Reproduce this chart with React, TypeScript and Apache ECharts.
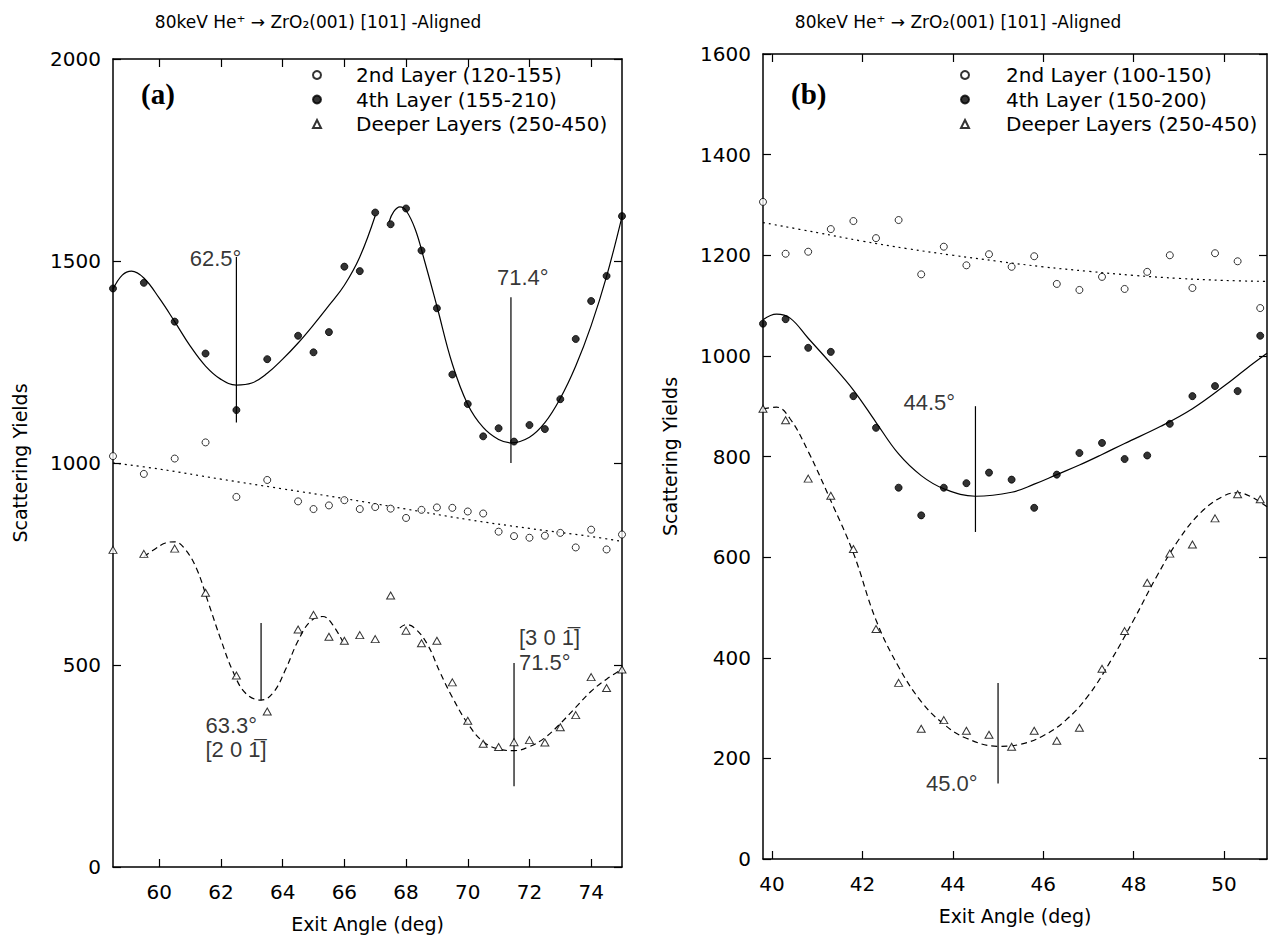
import React, { useEffect, useRef } from 'react';
import * as echarts from 'echarts';

const W = 1279;
const H = 939;
const FONT = '"DejaVu Sans", "Liberation Sans", sans-serif';
const ANNOT_FONT = '"Liberation Sans", Arial, sans-serif';
const TITLE_FONT = '"DejaVu Sans", "Liberation Sans", sans-serif';
const SERIF = '"Liberation Serif", "Times New Roman", serif';

// ---------- Panel (a) data ----------
const ticksA = [60, 62, 64, 66, 68, 70, 72, 74];
const anglesA = [58.5, 59.5, 60.5, 61.5, 62.5, 63.5, 64.5, 65, 65.5, 66, 66.5, 67, 67.5, 68, 68.5, 69, 69.5, 70, 70.5, 71, 71.5, 72, 72.5, 73, 73.5, 74, 74.5, 75];
const secondA = [1017, 973, 1011, 1051, 916, 958, 905, 886, 895, 908, 886, 891, 887, 864, 884, 890, 889, 880, 875, 830, 819, 815, 820, 827, 791, 835, 786, 823];
const fourthA = [1432, 1446, 1350, 1271, 1131, 1257, 1315, 1274, 1324, 1486, 1475, 1620, 1591, 1630, 1526, 1383, 1219, 1146, 1066, 1086, 1053, 1094, 1084, 1158, 1307, 1401, 1463, 1611];
const deeperA = [785, 775, 788, 679, 474, 385, 588, 624, 570, 560, 574, 564, 672, 585, 554, 560, 457, 362, 305, 297, 309, 314, 308, 346, 376, 470, 443, 489];

const fitSecondA = [[58.5, 1000], [60, 985], [62, 960], [64, 936], [66, 912], [68, 886], [70, 860], [72, 838], [74, 818], [75, 806]];
const fitFourthA1 = [[58.5, 1430], [58.8, 1465], [59.1, 1475], [59.5, 1458], [60.0, 1408], [60.5, 1350], [61.0, 1290], [61.5, 1240], [62.0, 1207], [62.5, 1193], [63.0, 1198], [63.5, 1222], [64.0, 1257], [64.5, 1297], [65.0, 1342], [65.5, 1390], [66.0, 1440], [66.5, 1510], [67.0, 1612]];
const fitFourthA2 = [[67.45, 1597], [67.6, 1622], [67.8, 1634], [68.0, 1625], [68.3, 1578], [68.6, 1500], [69.0, 1388], [69.5, 1245], [70.0, 1145], [70.5, 1088], [71.0, 1058], [71.4, 1050], [72.0, 1064], [72.5, 1100], [73.0, 1160], [73.5, 1240], [74.0, 1340], [74.5, 1462], [75.0, 1610]];
const fitDeeperA1 = [[59.5, 768], [59.8, 784], [60.2, 802], [60.5, 805], [60.8, 790], [61.2, 740], [61.6, 652], [62.0, 562], [62.4, 482], [62.8, 430], [63.3, 413], [63.7, 432], [64.1, 490], [64.5, 560], [64.9, 608], [65.3, 620], [65.6, 602], [66.0, 550]];
const fitDeeperA2 = [[67.8, 592], [68.0, 600], [68.3, 590], [68.7, 550], [69.1, 482], [69.5, 420], [70.0, 355], [70.5, 310], [71.0, 292], [71.5, 288], [72.0, 298], [72.5, 320], [73.0, 355], [73.5, 395], [74.0, 435], [74.5, 465], [75.0, 490]];

const markA = [[[62.5, 1100], [62.5, 1510]], [[71.4, 1000], [71.4, 1410]], [[63.3, 413], [63.3, 604]], [[71.5, 200], [71.5, 505]]];

// ---------- Panel (b) data ----------
const ticksB = [40, 42, 44, 46, 48, 50];
const anglesB = [39.8, 40.3, 40.8, 41.3, 41.8, 42.3, 42.8, 43.3, 43.8, 44.3, 44.8, 45.3, 45.8, 46.3, 46.8, 47.3, 47.8, 48.3, 48.8, 49.3, 49.8, 50.3, 50.8];
const secondB = [1306, 1203, 1207, 1252, 1268, 1234, 1270, 1162, 1217, 1180, 1202, 1177, 1198, 1143, 1131, 1157, 1133, 1167, 1200, 1135, 1204, 1188, 1095];
const fourthB = [1064, 1073, 1016, 1008, 920, 857, 738, 683, 738, 747, 768, 754, 698, 764, 807, 827, 795, 802, 865, 920, 940, 930, 1040];
const deeperB = [895, 872, 756, 722, 616, 457, 350, 259, 276, 255, 247, 223, 255, 235, 261, 378, 453, 549, 607, 625, 677, 725, 715];

const fitSecondB = [[39.8, 1265], [41, 1245], [42, 1228], [43, 1213], [44, 1200], [45, 1188], [46, 1177], [47, 1168], [48, 1160], [49, 1154], [50, 1150], [50.95, 1148]];
const fitFourthB = [[39.8, 1072], [40.1, 1083], [40.4, 1075], [40.8, 1035], [41.3, 985], [41.8, 932], [42.3, 868], [42.8, 805], [43.3, 762], [43.8, 736], [44.5, 721], [45.3, 729], [45.8, 745], [46.3, 764], [46.8, 783], [47.3, 804], [47.8, 826], [48.6, 860], [49.3, 895], [50.0, 940], [50.5, 975], [50.95, 1005]];
const fitDeeperB = [[39.8, 895], [40.1, 898], [40.4, 875], [40.8, 810], [41.3, 712], [41.8, 608], [42.3, 475], [42.8, 382], [43.3, 313], [43.8, 268], [44.3, 240], [45.0, 224], [45.5, 228], [46.0, 245], [46.5, 276], [47.0, 325], [47.5, 395], [48.0, 475], [48.5, 560], [49.0, 635], [49.5, 690], [50.0, 722], [50.3, 728], [50.6, 720], [50.95, 700]];

const markB = [[[44.5, 650], [44.5, 900]], [[45.0, 150], [45.0, 350]]];

const namesA = ['2nd Layer (120-155)', '4th Layer (155-210)', 'Deeper Layers (250-450)'];
const namesB = ['2nd Layer (100-150)', '4th Layer (150-200)', 'Deeper Layers (250-450)'];

const annotA = [
  { at: [62.5, 1507], text: '62.5°', align: 'right', dx: 5 },
  { at: [70.95, 1458], text: '71.4°', align: 'left', dx: 0 },
  { at: [61.5, 351], text: '63.3°', align: 'left', dx: 0 },
  { at: [61.5, 290], text: '[2 0 1\u0305]', align: 'left', dx: 0 },
  { at: [71.66, 568], text: '[3 0 1\u0305]', align: 'left', dx: 0 },
  { at: [71.66, 506], text: '71.5°', align: 'left', dx: 0 },
];
const annotB = [
  { at: [44.05, 907], text: '44.5°', align: 'right', dx: 0 },
  { at: [44.55, 149], text: '45.0°', align: 'right', dx: 0 },
];

const TITLE = '80keV He\u207A \u2192 ZrO\u2082(001) [101] -Aligned';

function zip(xs: number[], ys: number[]) {
  return xs.map((x, i) => [x, ys[i]]);
}

function axisPair(grid: number, min: number, max: number, ticks: number[]) {
  const common = {
    gridIndex: grid,
    type: 'value',
    min,
    max,
    axisLine: { show: true, onZero: false, lineStyle: { color: '#000', width: 1.5 } },
    axisTick: { show: true, inside: true, length: 8, customValues: ticks, lineStyle: { color: '#000', width: 1.2 } },
    splitLine: { show: false },
  };
  return [
    {
      ...common,
      position: 'bottom',
      axisLabel: { show: true, customValues: ticks, color: '#000', fontSize: 20, fontFamily: FONT, margin: 15 },
      name: 'Exit Angle (deg)',
      nameLocation: 'middle',
      nameGap: 47,
      nameTextStyle: { color: '#000', fontSize: 19, fontFamily: FONT },
    },
    { ...common, position: 'top', axisLabel: { show: false } },
  ];
}

function yPair(grid: number, max: number, interval: number) {
  const common = {
    gridIndex: grid,
    type: 'value',
    min: 0,
    max,
    interval,
    axisLine: { show: true, onZero: false, lineStyle: { color: '#000', width: 1.5 } },
    axisTick: { show: true, inside: true, length: 8, lineStyle: { color: '#000', width: 1.2 } },
    splitLine: { show: false },
  };
  return [
    {
      ...common,
      position: 'left',
      axisLabel: { show: true, color: '#000', fontSize: 20, fontFamily: FONT, margin: 12, formatter: (v: number) => String(v) },
      name: 'Scattering Yields',
      nameLocation: 'middle',
      nameGap: 84,
      nameRotate: 90,
      nameTextStyle: { color: '#000', fontSize: 19, fontFamily: FONT },
    },
    { ...common, position: 'right', axisLabel: { show: false } },
  ];
}

function scatterSeries(name: string, data: number[][], kind: string, xi: number, yi: number) {
  const isTri = kind === 'tri';
  const filled = kind === 'filled';
  return {
    name,
    type: 'scatter',
    xAxisIndex: xi,
    yAxisIndex: yi,
    data,
    symbol: isTri ? 'triangle' : 'circle',
    symbolSize: isTri ? [8, 7] : 7,
    itemStyle: { color: filled ? '#000' : '#fff', borderColor: '#000', borderWidth: 1 },
    z: 5,
    silent: true,
  };
}

function fitSeries(data: number[][], dash: any, xi: number, yi: number) {
  return {
    type: 'line',
    xAxisIndex: xi,
    yAxisIndex: yi,
    data,
    smooth: 0.4,
    showSymbol: false,
    symbol: 'none',
    lineStyle: { color: '#000', width: 1.2, type: dash },
    z: 3,
    silent: true,
  };
}

function markSeries(lines: number[][][], xi: number, yi: number) {
  return lines.map((seg) => ({
    type: 'line',
    xAxisIndex: xi,
    yAxisIndex: yi,
    data: seg,
    showSymbol: false,
    symbol: 'none',
    lineStyle: { color: '#000', width: 1.2 },
    z: 2,
    silent: true,
  }));
}

function annotSeries(items: any[], xi: number, yi: number) {
  return {
    type: 'scatter',
    xAxisIndex: xi,
    yAxisIndex: yi,
    symbolSize: 0.1,
    itemStyle: { color: 'transparent' },
    silent: true,
    z: 6,
    data: items.map((it) => ({
      value: it.at,
      label: {
        show: true,
        formatter: it.text,
        position: [it.dx, 0],
        align: it.align,
        verticalAlign: 'middle',
        color: '#000',
        fontSize: 22,
        fontFamily: ANNOT_FONT,
      },
    })),
  };
}

function legendFor(names: string[], left: number, pad: number) {
  return {
    data: names.map((n) => ({ name: n })),
    orient: 'vertical',
    left,
    top: 65,
    padding: 0,
    itemWidth: 8,
    itemHeight: 8,
    itemGap: 4.5,
    selectedMode: false,
    textStyle: { color: '#000', fontSize: 20, fontFamily: FONT, lineHeight: 20, padding: [0, 0, 0, pad] },
  };
}

export default function App() {
  const ref = useRef<HTMLDivElement>(null);
  useEffect(() => {
    if (!ref.current) return;
    const chart = echarts.init(ref.current, null, { renderer: 'svg' });
    const xA = axisPair(0, 58.5, 75, ticksA);
    const xB = axisPair(1, 39.8, 50.95, ticksB);
    const yA = yPair(0, 2000, 500);
    const yB = yPair(1, 1600, 200);
    const option: any = {
      animation: false,
      backgroundColor: '#fff',
      textStyle: { fontFamily: FONT },
      grid: [
        { left: 113, top: 59, width: 509, height: 808 },
        { left: 763, top: 54, width: 504, height: 805 },
      ],
      xAxis: [...xA, ...xB],
      yAxis: [...yA, ...yB],
      legend: [legendFor(namesA, 312, 30), legendFor(namesB, 960, 32)],
      graphic: [
        { type: 'text', left: 141, top: 79, style: { text: '(a)', fill: '#000', font: `bold 29px ${SERIF}` } },
        { type: 'text', left: 791, top: 79, style: { text: '(b)', fill: '#000', font: `bold 29px ${SERIF}` } },
        { type: 'text', x: 318, y: 22, style: { text: TITLE, fill: '#000', font: `17px ${TITLE_FONT}`, align: 'center', verticalAlign: 'middle' } },
        { type: 'text', x: 958, y: 22, style: { text: TITLE, fill: '#000', font: `17px ${TITLE_FONT}`, align: 'center', verticalAlign: 'middle' } },
      ],
      series: [
        fitSeries(fitSecondA, [2, 4], 0, 0),
        fitSeries(fitFourthA1, 'solid', 0, 0),
        fitSeries(fitFourthA2, 'solid', 0, 0),
        fitSeries(fitDeeperA1, [6, 4], 0, 0),
        fitSeries(fitDeeperA2, [6, 4], 0, 0),
        ...markSeries(markA, 0, 0),
        scatterSeries(namesA[0], zip(anglesA, secondA), 'open', 0, 0),
        scatterSeries(namesA[1], zip(anglesA, fourthA), 'filled', 0, 0),
        scatterSeries(namesA[2], zip(anglesA, deeperA), 'tri', 0, 0),
        annotSeries(annotA, 0, 0),
        fitSeries(fitSecondB, [2, 4], 2, 2),
        fitSeries(fitFourthB, 'solid', 2, 2),
        fitSeries(fitDeeperB, [6, 4], 2, 2),
        ...markSeries(markB, 2, 2),
        scatterSeries(namesB[0], zip(anglesB, secondB), 'open', 2, 2),
        scatterSeries(namesB[1], zip(anglesB, fourthB), 'filled', 2, 2),
        scatterSeries(namesB[2], zip(anglesB, deeperB), 'tri', 2, 2),
        annotSeries(annotB, 2, 2),
      ],
    };
    chart.setOption(option);
    return () => chart.dispose();
  }, []);
  return <div ref={ref} style={{ position: 'absolute', left: 0, top: 0, width: W, height: H, background: '#fff' }} />;
}
